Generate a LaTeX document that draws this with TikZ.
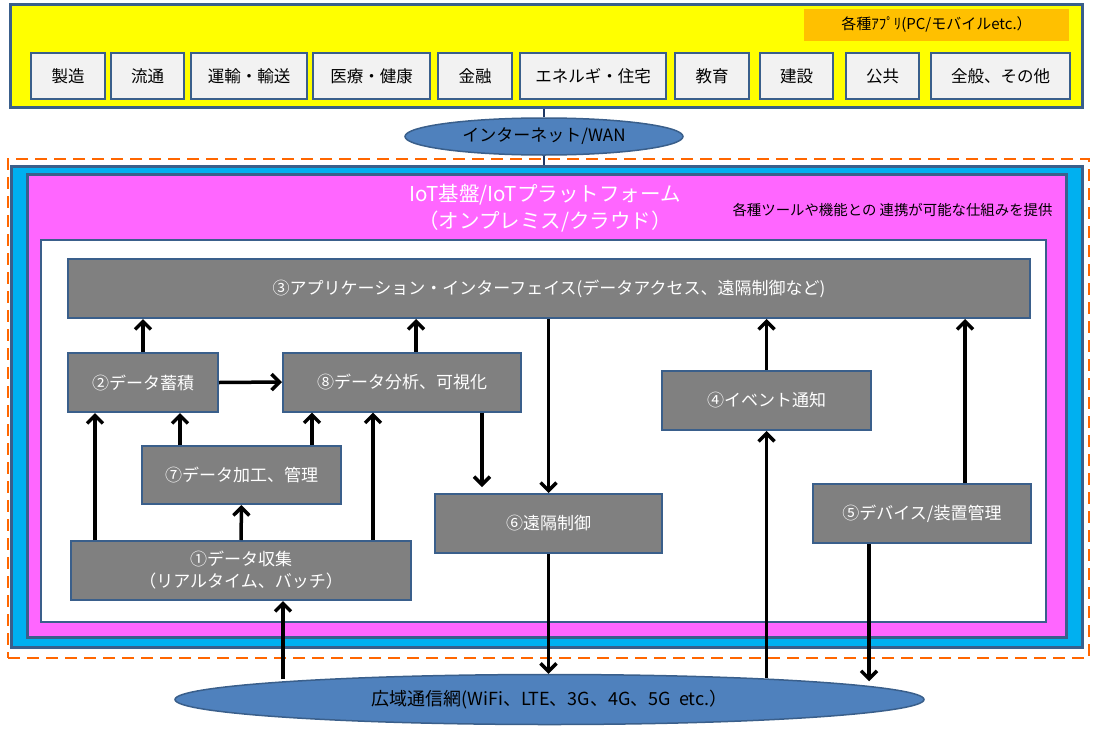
\documentclass[tikz,border=0pt]{standalone}
\usepackage{fontspec}
\setmainfont{Noto Sans CJK JP}
\usetikzlibrary{shapes.geometric,arrows.meta}
\definecolor{edgeblue}{HTML}{3A5F8B}
\definecolor{linknavy}{HTML}{1F3864}
\definecolor{appyellow}{HTML}{FFFF00}
\definecolor{tagorange}{HTML}{FFC000}
\definecolor{fieldgray}{HTML}{F2F2F2}
\definecolor{netblue}{HTML}{4F81BD}
\definecolor{zoneorange}{HTML}{FF6600}
\definecolor{platcyan}{HTML}{00B0F0}
\definecolor{iotpink}{HTML}{FF66FF}
\definecolor{boxgray}{HTML}{808080}

\begin{document}
\begin{tikzpicture}[x=1pt, y=-1pt,
    field box/.style={draw=edgeblue, line width=2pt, fill=fieldgray, minimum width=#1, minimum height=46pt, inner sep=0pt, font=\fontsize{16.5}{18}\selectfont},
    func box/.style={draw=edgeblue, line width=2pt, fill=boxgray, text=white, minimum width=#1, minimum height=59pt, inner sep=0pt, align=center, font=\fontsize{17}{22}\selectfont},
    frame/.style={draw=edgeblue, inner sep=0pt},
    net/.style={ellipse, draw=edgeblue, line width=1.5pt, fill=netblue, inner sep=0pt},
    flow/.style={->, line width=3.5pt},
    link/.style={draw=linknavy, line width=2.5pt},
    >={Straight Barb[length=8pt,width=16pt]}]
    \useasboundingbox (0,0) rectangle (1099,728);

    \node[frame, line width=3pt, fill=appyellow, minimum width=1072pt, minimum height=103pt] (apps) at (546,55.5) {};
    \node[fill=tagorange, minimum width=265pt, minimum height=32pt, inner sep=0pt, font=\fontsize{15}{17}\selectfont] (tag) at (936.5,24.5) {各種ｱﾌﾟﾘ(PC/モバイルetc.）};
    \node[field box=74pt] (mfg) at (68,76) {製造};
    \node[field box=73pt] (dist) at (147.5,76) {流通};
    \node[field box=116pt] (trans) at (249,76) {運輸・輸送};
    \node[field box=117pt] (med) at (371.5,76) {医療・健康};
    \node[field box=74pt] (fin) at (475,76) {金融};
    \node[field box=146pt] (enrg) at (593,76) {エネルギ・住宅};
    \node[field box=74pt] (edu) at (712,76) {教育};
    \node[field box=73pt] (cons) at (796.5,76) {建設};
    \node[field box=73pt] (pub) at (882.5,76) {公共};
    \node[field box=139pt] (misc) at (1000.5,76) {全般、その他};

    \node[net, minimum width=278pt, minimum height=37pt, font=\fontsize{17}{19}\selectfont] (inet) at (544,136.5) {インターネット/WAN};

    \node[draw=zoneorange, line width=2.5pt, dash pattern=on 12pt off 7pt, minimum width=1081pt, minimum height=499pt, inner sep=0pt] (zone) at (548.5,408.5) {};
    \node[frame, line width=3pt, fill=platcyan, minimum width=1071pt, minimum height=481pt] (plat) at (546.5,406.5) {};
    \node[frame, line width=3pt, fill=iotpink, minimum width=1039pt, minimum height=463pt] (iot) at (546.5,405.5) {};
    \node[frame, line width=2.5pt, fill=white, minimum width=1005pt, minimum height=382pt] (core) at (543.5,431) {};
    \node[text=white, align=center, font=\fontsize{20.5}{27}\selectfont] (title) at (545,208) {IoT基盤/IoTプラットフォーム\\（オンプレミス/クラウド）};
    \node[font=\fontsize{14.4}{16}\selectfont] (note) at (892.5,210) {各種ツールや機能との 連携が可能な仕組みを提供};

    \draw[link] (inet.north) -- (inet.north |- apps.south);
    \draw[link] (inet.south) -- (inet.south |- plat.north);

    \node[func box=962pt] (api) at (549,288.5) {③アプリケーション・インターフェイス(データアクセス、遠隔制御など)};
    \node[func box=150pt] (stor) at (143,382.5) {②データ蓄積};
    \node[func box=238pt] (anly) at (402,382) {⑧データ分析、可視化};
    \node[func box=199pt, minimum height=58pt] (proc) at (241.5,475) {⑦データ加工、管理};
    \node[func box=340pt] (coll) at (241,570.5) {①データ収集\\（リアルタイム、バッチ）};
    \node[func box=227pt] (ctrl) at (548.5,523.5) {⑥遠隔制御};
    \node[func box=209pt] (evnt) at (766.5,400.5) {④イベント通知};
    \node[func box=218pt] (dev) at (922,513.5) {⑤デバイス/装置管理};

    \node[net, minimum width=749pt, minimum height=50pt, font=\fontsize{18}{20}\selectfont] (wan) at (549.5,699.5) {広域通信網(WiFi、LTE、3G、4G、5G\ \ etc.）};

    \draw[flow] (stor.north) -- (stor.north |- api.south);
    \draw[flow] ([xshift=14pt]anly.north) -- ([xshift=14pt]anly.north |- api.south);
    \draw[flow] (stor.east) -- (anly.west);
    \draw[flow] ([xshift=-61.5pt]proc.north) -- ([xshift=-61.5pt]proc.north |- stor.south);
    \draw[flow] ([xshift=70.5pt]proc.north) -- ([xshift=70.5pt]proc.north |- anly.south);
    \draw[flow] ([xshift=-146pt]coll.north) -- ([xshift=-146pt]coll.north |- stor.south);
    \draw[flow] (coll.north) -- (proc.south);
    \draw[flow] ([xshift=132pt]coll.north) -- ([xshift=132pt]coll.north |- anly.south);
    \draw[flow, shorten >=6pt] ([xshift=80pt]anly.south) -- ([xshift=80pt]anly.south |- ctrl.north);
    \draw[flow] (api.south -| ctrl.north) -- (ctrl.north);
    \draw[flow] (ctrl.south) -- (ctrl.south |- wan.north);
    \draw[flow] ([xshift=42pt,yshift=-5.5pt]coll.south |- wan.north) -- ([xshift=42pt]coll.south);
    \draw[flow] (evnt.north) -- (evnt.north |- api.south);
    \draw[flow] ([yshift=-4.5pt]evnt.south |- wan.north) -- (evnt.south);
    \draw[flow] ([xshift=43pt]dev.north) -- ([xshift=43pt]dev.north |- api.south);
    \draw[flow] ([xshift=-53pt]dev.south) -- ([xshift=-53pt,yshift=-7.5pt]dev.south |- wan.north);
\end{tikzpicture}
\end{document}
